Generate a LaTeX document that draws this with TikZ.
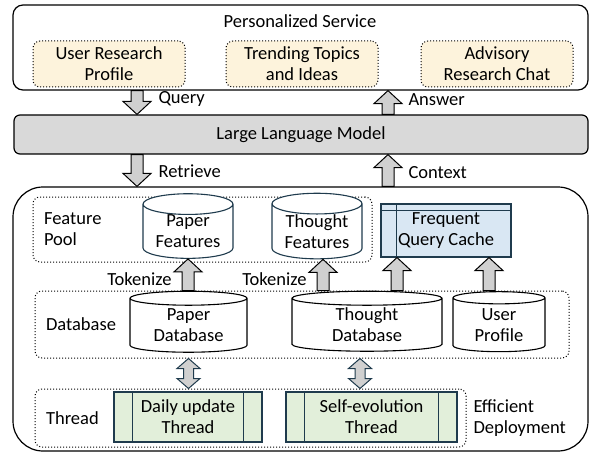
\documentclass[tikz,border=0pt]{standalone}
\usepackage{fontspec}
\setmainfont{Carlito}
\usetikzlibrary{shapes.geometric,calc,positioning}

\definecolor{boxyellow}{HTML}{FDF3DC}
\definecolor{llmgray}{HTML}{D9D9D9}
\definecolor{arrowgray}{HTML}{D0D0D0}
\definecolor{cacheblue}{HTML}{D9E7F3}
\definecolor{threadgreen}{HTML}{E2EFDA}
\definecolor{slate}{HTML}{1F3B4D}

\begin{document}
\begin{tikzpicture}[x=1pt,y=-1pt,font=\fontsize{18.5pt}{21pt}\selectfont,
panel/.style={draw,rounded corners=10pt,line width=1.2pt},
pool/.style={draw,dotted,line width=1pt,rounded corners=7pt},
service/.style={pool,fill=boxyellow,minimum width=152pt,minimum height=46pt,align=center,inner sep=0pt},
db/.style={cylinder,shape border rotate=90,draw,line width=1.1pt,fill=white,aspect=0.2,align=center,inner sep=0pt},
thread/.style={draw=slate,fill=threadgreen,line width=1.1pt,minimum height=50pt,align=center},
fatarrow/.style={draw,fill=arrowgray,line width=1pt},
dblarrow/.style={draw=slate,fill=arrowgray,line width=1pt},
fatup/.style={to path={let \p1=(\tikztostart),\p2=(\tikztotarget) in
 (\x1-6pt,\y1) -- (\x1-6pt,\y2-13pt) -- (\x1-14pt,\y2-13pt) -- (\x1,\y2) -- (\x1+14pt,\y2-13pt) -- (\x1+6pt,\y2-13pt) -- (\x1+6pt,\y1) -- cycle}},
fatdown/.style={to path={let \p1=(\tikztostart),\p2=(\tikztotarget) in
 (\x1-6pt,\y1) -- (\x1-6pt,\y2+13pt) -- (\x1-14pt,\y2+13pt) -- (\x1,\y2) -- (\x1+14pt,\y2+13pt) -- (\x1+6pt,\y2+13pt) -- (\x1+6pt,\y1) -- cycle}},
fatboth/.style={to path={let \p1=(\tikztostart),\p2=(\tikztotarget) in
 (\x1,\y1) -- (\x1+11.5pt,\y1-10pt) -- (\x1+5pt,\y1-10pt) -- (\x1+5pt,\y2+10pt) -- (\x1+11.5pt,\y2+10pt) -- (\x1,\y2) -- (\x1-11.5pt,\y2+10pt) -- (\x1-5pt,\y2+10pt) -- (\x1-5pt,\y1-10pt) -- (\x1-11.5pt,\y1-10pt) -- cycle}}]
\useasboundingbox (0,0) rectangle (590,452);

% top: personalized service
\node[panel,minimum width=575pt,minimum height=85pt] (svc) at (300.5,47.5) {};
\node (svctitle) at (300,21) {Personalized Service};
\node[service] (profile) at (109,64) {User Research\\Profile};
\node[service] (trend) at (302,64) {Trending Topics\\and Ideas};
\node[service] (chat) at (497,64) {Advisory\\Research Chat};

% llm
\node[panel,fill=llmgray,rounded corners=6pt,minimum width=574pt,minimum height=39pt] (llm) at (301,134.5) {Large Language Model};

% system
\node[panel,rounded corners=30pt,minimum width=575pt,minimum height=264pt] (system) at (300.5,319) {};

\coordinate (qx) at (137,0);
\coordinate (ax) at (388,0);
\draw[fatarrow] (svc.south -| qx) to[fatdown] (llm.north -| qx);
\draw[fatarrow] (llm.north -| ax) to[fatup] (svc.south -| ax);
\draw[fatarrow] (llm.south -| qx) to[fatdown] (system.north -| qx);
\draw[fatarrow] (system.north -| ax) to[fatup] (llm.south -| ax);
\node[anchor=west] (query) at (155,99) {Query};
\node[anchor=west] (answer) at (405,100) {Answer};
\node[anchor=west] (retrieve) at (155,171) {Retrieve};
\node[anchor=west] (context) at (405,173) {Context};

% feature pool
\node[pool,minimum width=339pt,minimum height=65pt] (fpool) at (202.5,229.5) {};
\node[anchor=west,align=left,xshift=8pt] (fplabel) at (fpool.west) {Feature\\Pool};
\node[db,draw=slate,aspect=0.32,minimum width=90pt,minimum height=57pt] (pfeat) at (188,231.5) {Paper\\Features};
\node[db,draw=slate,aspect=0.32,minimum width=90pt,minimum height=57pt] (tfeat) at (317,231.5) {Thought\\Features};
\node[draw=slate,fill=cacheblue,line width=1.1pt,minimum width=130pt,minimum height=53pt,align=center] (cache) at (446,230.5) {Frequent\\Query Cache};
\draw[slate,line width=1.1pt] ([yshift=-7pt]cache.north west) -- ([yshift=-7pt]cache.north east);
\draw[slate,line width=1.1pt] ([xshift=16pt]cache.north west) -- ([xshift=16pt]cache.south west);

% database
\node[pool,minimum width=534pt,minimum height=67pt] (dbpool) at (302,324.5) {};
\node[anchor=west,xshift=8pt] (dblabel) at (dbpool.west) {Database};
\node[db,minimum width=117pt,minimum height=61pt] (pdb) at (188.5,325.5) {Paper\\Database};
\node[db,minimum width=150pt,minimum height=60pt] (tdb) at (367,325) {Thought\\Database};
\node[db,aspect=0.25,minimum width=92pt,minimum height=60pt] (user) at (499,325) {User\\Profile};

\coordinate (tx) at (323,0);
\coordinate (cx1) at (397,0);
\coordinate (cx2) at (489,0);
\draw[fatarrow] (dbpool.north -| pfeat.south) to[fatup] (pfeat.south);
\draw[fatarrow] (dbpool.north -| tx) to[fatup] (tfeat.south -| tx);
\draw[fatarrow] (dbpool.north -| cx1) to[fatup] (cache.south -| cx1);
\draw[fatarrow] (dbpool.north -| cx2) to[fatup] (cache.south -| cx2);
\node[anchor=east] (tok1) at (175,279) {Tokenize};
\node[anchor=east] (tok2) at (310,279) {Tokenize};

% thread
\node[pool,minimum width=431pt,minimum height=58pt] (tpool) at (250.5,418) {};
\node[anchor=west,xshift=8pt] (thlabel) at (tpool.west) {Thread};
\node[thread,minimum width=148pt] (daily) at (188,417) {Daily update\\Thread};
\node[thread,minimum width=171pt] (selfevo) at (371.5,417) {Self-evolution\\Thread};
\foreach \t in {daily,selfevo} {
  \draw[slate,line width=1.1pt] ([xshift=19pt]\t.north west) -- ([xshift=19pt]\t.south west);
  \draw[slate,line width=1.1pt] ([xshift=-19pt]\t.north east) -- ([xshift=-19pt]\t.south east);
}
\coordinate (sx) at (360,0);
\draw[dblarrow] (dbpool.south -| pdb.south) to[fatboth] (tpool.north -| pdb.south);
\draw[dblarrow] (dbpool.south -| sx) to[fatboth] (tpool.north -| sx);
\node[anchor=west,align=left] (effdep) at (470,418) {Efficient\\Deployment};
\end{tikzpicture}
\end{document}
